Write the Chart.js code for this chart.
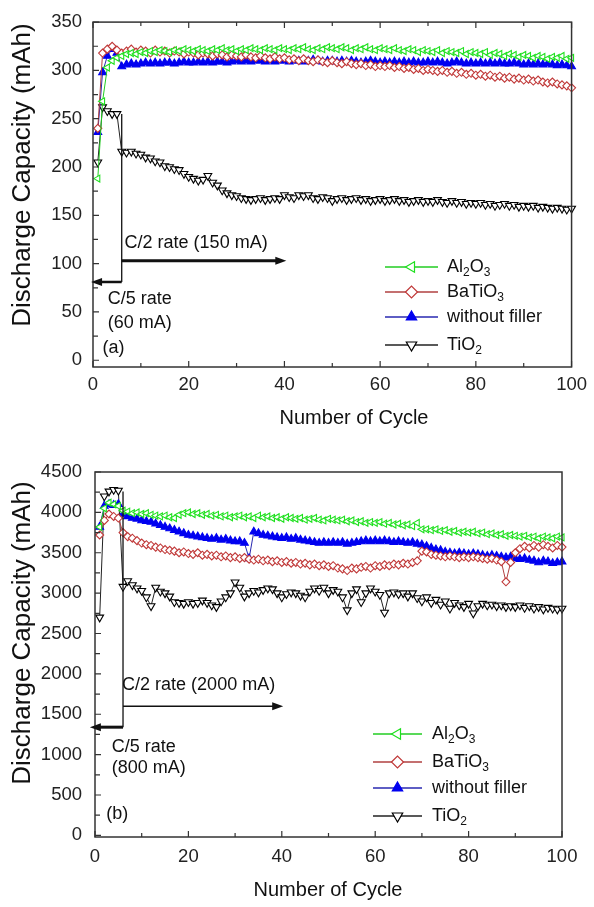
<!DOCTYPE html>
<html>
<head>
<meta charset="utf-8">
<script src="https://cdn.jsdelivr.net/npm/chart.js@4.4.1/dist/chart.umd.min.js"></script>
<style>
  html, body { margin: 0; padding: 0; background: #fff; }
  #wrap { position: relative; width: 594px; height: 907px; }
  #chartA { position: absolute; left: 0; top: 0; }
  #chartB { position: absolute; left: 0; top: 440px; }
</style>
</head>
<body>
<div id="wrap">
  <canvas id="chartA" width="594" height="440"></canvas>
  <canvas id="chartB" width="594" height="467"></canvas>
</div>
<script>
const cycles = Array.from({length: 100}, (_, i) => i + 1);
const seriesNames = ['Al2O3', 'BaTiO3', 'without filler', 'TiO2'];
const cycleTicks = [0, 20, 40, 60, 80, 100];
const capTicksA = [0, 50, 100, 150, 200, 250, 300, 350];
const capTicksB = [0, 500, 1000, 1500, 2000, 2500, 3000, 3500, 4000, 4500];

/*
* (a) small cell, mAh
*/
const al2o3A = [
  188, 268, 303, 310, 313, 315, 317, 318, 317, 319,
  318, 320, 319, 321, 320, 319, 321, 320, 322, 321,
  320, 322, 321, 320, 322, 321, 323, 321, 322, 320,
  322, 321, 323, 322, 321, 323, 322, 321, 323, 322,
  321, 323, 322, 324, 322, 321, 323, 322, 324, 323,
  322, 324, 323, 321, 323, 322, 324, 322, 321, 323,
  322, 321, 323, 321, 320, 322, 321, 319, 321, 320,
  319, 321, 318, 320, 319, 318, 320, 317, 319, 318,
  317, 319, 316, 318, 317, 315, 317, 316, 314, 316,
  315, 313, 315, 314, 312, 314, 313, 315, 312, 313
];
const batio3A = [
  240, 318, 322, 325, 321, 318, 320, 322, 319, 321,
  320, 318, 321, 319, 320, 318, 320, 319, 317, 319,
  318, 316, 318, 317, 315, 317, 316, 314, 316, 315,
  314, 316, 314, 313, 315, 313, 312, 314, 312, 313,
  311, 312, 310, 312, 310, 309, 311, 309, 308, 310,
  308, 307, 309, 307, 306, 307, 305, 306, 304, 305,
  304, 305, 303, 304, 302, 303, 301, 302, 300, 301,
  300, 299, 300, 298, 299, 297, 298, 296, 297, 295,
  296, 294, 295, 293, 294, 292, 293, 291, 292, 290,
  291, 289, 290, 288, 287, 288, 286, 285, 284, 282
];
const noFillerA = [
  236, 298, 315, 322, 318, 304, 306, 307, 306, 307,
  308, 307, 308, 307, 308, 308, 307, 308, 309, 308,
  308, 309, 308, 309, 308, 309, 309, 308, 309, 310,
  309, 310, 309, 310, 310, 309, 310, 309, 310, 310,
  309, 310, 310, 309, 310, 311, 310, 309, 310, 310,
  309, 310, 309, 310, 309, 308, 309, 310, 309, 308,
  309, 308, 309, 308, 309, 308, 309, 308, 308, 309,
  308, 309, 308, 307, 308, 309, 308, 307, 308, 307,
  308, 307, 308, 307, 308, 307, 307, 308, 307, 306,
  307, 306, 307, 306, 307, 306, 305, 306, 305, 304
];
const tio2A = [
  205, 262, 258, 255, 255, 216, 215, 216, 214, 213,
  210, 209, 206, 205, 201, 200, 198, 197, 193, 190,
  188, 186, 187, 191, 184, 181, 176, 173, 171, 170,
  168, 167, 166, 167, 168, 166, 167, 168, 167, 171,
  169, 168, 171, 170, 171, 168, 167, 169, 168, 165,
  167, 168, 166, 167, 168, 166, 167, 165, 166, 167,
  165, 166, 167, 165, 166, 164, 165, 166, 164, 165,
  164, 166, 164, 163, 165, 163, 164, 162, 163, 162,
  163, 161, 162, 160, 161, 162, 160, 161, 159, 160,
  159, 160, 158, 159, 158, 157, 158, 157, 156, 157
];

/*
* (b) large cell, mAh
*/
const al2o3B = [
  3820, 4050, 4120, 4100, 4080, 4020, 4010, 3990, 4000, 3980,
  3990, 3970, 3960, 3950, 3960, 3940, 3930, 3970, 3990, 4000,
  3980, 3990, 3970, 3980, 3960, 3970, 3950, 3960, 3940, 3950,
  3960, 3940, 3950, 3930, 3960, 3940, 3950, 3930, 3940, 3920,
  3940, 3930, 3920, 3930, 3910, 3920, 3930, 3910, 3900, 3920,
  3910, 3900, 3910, 3890, 3900, 3880, 3890, 3870, 3880, 3870,
  3880, 3860, 3870, 3850, 3860, 3840, 3850, 3830, 3870, 3790,
  3790, 3780, 3790, 3770, 3780, 3760, 3770, 3750, 3760, 3750,
  3760, 3740, 3750, 3730, 3740, 3720, 3730, 3710, 3720, 3710,
  3700, 3710, 3690, 3700, 3680, 3700, 3690, 3680, 3700, 3690
];
const batio3B = [
  3720, 3900, 3980, 3950, 3930, 3750, 3700, 3680, 3650, 3620,
  3600, 3590, 3570, 3560, 3540, 3530, 3520, 3500, 3510, 3490,
  3480, 3500, 3470, 3480, 3460, 3470, 3450, 3460, 3440, 3450,
  3430, 3440, 3420, 3410, 3420, 3400, 3410, 3390, 3400, 3380,
  3390, 3370, 3380, 3360, 3370, 3350, 3360, 3340, 3350, 3330,
  3340, 3310, 3300, 3280, 3310, 3300, 3320, 3330, 3310, 3340,
  3330, 3350, 3340, 3360, 3350, 3370, 3360, 3380, 3400, 3520,
  3510, 3480, 3470, 3460, 3450, 3460, 3450, 3440, 3450, 3440,
  3450, 3440, 3430, 3420, 3430, 3410, 3390, 3140, 3380, 3500,
  3550, 3580, 3560, 3590, 3570, 3600, 3580, 3560, 3590, 3570
];
const noFillerB = [
  3820, 4080, 4100, 4090, 4100, 3980, 3950, 3930, 3920, 3900,
  3890, 3880, 3860, 3840, 3820, 3800, 3780, 3760, 3740, 3720,
  3710, 3700, 3690, 3680, 3670, 3680, 3660, 3670, 3650, 3640,
  3640, 3620, 3430, 3760, 3740, 3720, 3710, 3700, 3690, 3680,
  3690, 3670, 3680, 3660, 3650, 3640, 3630, 3620, 3630, 3620,
  3630, 3620, 3630, 3610, 3620, 3630, 3640, 3650, 3640, 3650,
  3640, 3650, 3640, 3630, 3640, 3630, 3620, 3630, 3610, 3600,
  3580, 3560, 3540, 3530, 3510, 3500, 3490, 3500, 3490, 3480,
  3490, 3480, 3470, 3460, 3470, 3460, 3450, 3440, 3450, 3430,
  3420, 3430, 3410, 3400, 3380, 3400, 3390, 3370, 3380, 3390
];
const tio2B = [
  2700, 4200, 4260, 4280, 4270, 3080, 3150, 3100, 3060, 3030,
  2950, 2840, 3070, 3020, 3000, 2960, 2890, 2880, 2870, 2890,
  2870, 2880, 2910, 2880, 2850, 2830, 2900, 2950, 3000, 3135,
  3070, 2960, 3000, 3030, 3010, 3040, 3060, 3050, 3000, 2950,
  2990, 3010, 3000, 2970, 2950, 3020, 3060, 3030, 3070, 3000,
  3040, 3020, 2950, 2790, 3000, 3050, 2890, 3000, 3060, 3020,
  2980, 2760, 3000, 3010, 2990, 3000, 2960, 3000, 2940, 2900,
  2950, 2880, 2920, 2860, 2900, 2810, 2880, 2850, 2830, 2870,
  2750, 2840, 2870, 2850, 2860, 2840, 2850, 2830, 2840, 2830,
  2850, 2820, 2840, 2810, 2830, 2800, 2820, 2810, 2800, 2810
];

const FONT = '"Liberation Sans", Arial, Helvetica, sans-serif';
Chart.defaults.font.family = FONT;
Chart.defaults.color = '#222';

const styles = [
  {line: '#22cc22', edge: '#1ee01e', fill: '#fff', point: 'triangle', rot: -90, r: 4},
  {line: '#b04040', edge: '#c03838', fill: '#fff', point: 'rectRot', rot: 0, r: 4},
  {line: '#2828b0', edge: '#0000f0', fill: '#0000f0', point: 'triangle', rot: 0, r: 4.5},
  {line: '#222', edge: '#000', fill: '#fff', point: 'triangle', rot: 180, r: 4.5}
];

function makeDatasets(values) {
  return values.map((vals, i) => ({
    label: seriesNames[i],
    data: vals,
    borderColor: styles[i].line,
    borderWidth: 1,
    pointStyle: styles[i].point,
    pointRotation: styles[i].rot,
    pointRadius: styles[i].r,
    pointBorderColor: styles[i].edge,
    pointBackgroundColor: styles[i].fill,
    pointBorderWidth: 1.1,
    tension: 0,
    clip: false
  }));
}

// digits of a formula go down as subscripts
function drawFormula(ctx, text, x, y) {
  ctx.textBaseline = 'middle';
  ctx.textAlign = 'left';
  ctx.fillStyle = '#111';
  text.match(/\d+|\D+/g).forEach(run => {
    const sub = /^\d+$/.test(run);
    ctx.font = (sub ? '12px ' : '18px ') + FONT;
    ctx.fillText(run, x, sub ? y + 6 : y);
    x += ctx.measureText(run).width;
  });
}

function arrow(ctx, x0, x1, y, w) {
  const dir = Math.sign(x1 - x0);
  ctx.lineWidth = w;
  ctx.beginPath();
  ctx.moveTo(x0, y);
  ctx.lineTo(x1 - dir * 8, y);
  ctx.stroke();
  ctx.beginPath();
  ctx.moveTo(x1, y);
  ctx.lineTo(x1 - dir * 11, y - 4);
  ctx.lineTo(x1 - dir * 11, y + 4);
  ctx.closePath();
  ctx.fill();
}

/*
* Box around the plot with inward tick marks
*/
const frameTicks = {
  id: 'frameTicks',
  afterDatasetsDraw(chart, args, opts) {
    const {ctx, chartArea: a, scales: {x, y}} = chart;
    const withMinor = vals => {
      const out = [];
      vals.forEach((v, i) => {
        out.push({v: v, major: true});
        if (i < vals.length - 1) out.push({v: (v + vals[i + 1]) / 2, major: false});
      });
      return out;
    };
    ctx.save();
    ctx.strokeStyle = '#333';
    ctx.lineWidth = 1.5;
    ctx.strokeRect(a.left, a.top, a.right - a.left, a.bottom - a.top);
    ctx.lineWidth = 1.2;
    ctx.beginPath();
    withMinor(x.ticks.map(t => t.value)).forEach(t => {
      const p = x.getPixelForValue(t.v);
      const len = t.major ? 6 : 4;
      ctx.moveTo(p, a.bottom);
      ctx.lineTo(p, a.bottom - len);
      if (opts.top) {
        ctx.moveTo(p, a.top);
        ctx.lineTo(p, a.top + len);
      }
    });
    withMinor(y.ticks.map(t => t.value)).forEach(t => {
      const p = y.getPixelForValue(t.v);
      ctx.moveTo(a.left, p);
      ctx.lineTo(a.left + (t.major ? 6 : 5), p);
    });
    ctx.stroke();
    ctx.restore();
  }
};

/*
* Axis titles, placed by hand (the y title sits a bit above the middle)
*/
const axisTitles = {
  id: 'axisTitles',
  afterDraw(chart, args, o) {
    const ctx = chart.ctx;
    ctx.save();
    ctx.fillStyle = '#111';
    ctx.textAlign = 'center';
    ctx.textBaseline = 'middle';
    ctx.font = '20px ' + FONT;
    ctx.fillText('Number of Cycle', o.x[0], o.x[1]);
    ctx.translate(o.y[0], o.y[1]);
    ctx.rotate(-Math.PI / 2);
    ctx.font = '26px ' + FONT;
    ctx.fillText('Discharge Capacity (mAh)', 0, 0);
    ctx.restore();
  }
};

/*
* C/5 and C/2 rate arrows and notes
*/
const rateMarks = {
  id: 'rateMarks',
  afterDatasetsDraw(chart, args, o) {
    const {ctx, scales: {x, y}} = chart;
    const sx = x.getPixelForValue(o.switchAt);
    const slowY = y.getPixelForValue(o.slow.y);
    ctx.save();
    ctx.strokeStyle = '#111';
    ctx.fillStyle = '#111';
    ctx.lineWidth = 1.3;
    ctx.beginPath();
    ctx.moveTo(sx, slowY);
    ctx.lineTo(sx, y.getPixelForValue(o.switchTop));
    ctx.stroke();
    arrow(ctx, sx, x.getPixelForValue(o.slow.to), slowY, o.slow.w);
    arrow(ctx, sx, x.getPixelForValue(o.fast.to), y.getPixelForValue(o.fast.y), o.fast.w);
    ctx.font = '18px ' + FONT;
    ctx.textBaseline = 'middle';
    ctx.textAlign = 'left';
    o.notes.forEach(n => ctx.fillText(n.text, x.getPixelForValue(n.x), y.getPixelForValue(n.y)));
    ctx.restore();
  }
};

/*
* Legend: line sample with the marker in the middle
*/
const sampleLegend = {
  id: 'sampleLegend',
  afterDraw(chart, args, o) {
    const ctx = chart.ctx;
    chart.data.datasets.forEach((ds, i) => {
      const yy = o.rows[i];
      ctx.save();
      ctx.strokeStyle = ds.borderColor;
      ctx.lineWidth = 1.4;
      ctx.beginPath();
      ctx.moveTo(o.x0, yy);
      ctx.lineTo(o.x1, yy);
      ctx.stroke();
      ctx.fillStyle = ds.pointBackgroundColor;
      ctx.strokeStyle = ds.pointBorderColor;
      ctx.lineWidth = 1.2;
      Chart.helpers.drawPoint(ctx, {
        pointStyle: ds.pointStyle,
        rotation: ds.pointRotation,
        radius: 6,
        borderWidth: 1.2
      }, (o.x0 + o.x1) / 2, yy);
      drawFormula(ctx, ds.label, o.textX, yy);
      ctx.restore();
    });
  }
};

function makeChart(id, values, cfg) {
  return new Chart(document.getElementById(id), {
    type: 'line',
    data: {labels: cycles, datasets: makeDatasets(values)},
    plugins: [frameTicks, rateMarks, sampleLegend, axisTitles],
    options: {
      responsive: false,
      animation: false,
      layout: {padding: {top: cfg.padTop, right: cfg.padRight, left: 0, bottom: 0}},
      scales: {
        x: {
          type: 'linear',
          min: 0,
          max: 100,
          afterBuildTicks: s => { s.ticks = cycleTicks.map(v => ({value: v})); },
          afterFit: s => { s.height = cfg.xHeight; },
          grid: {display: false, drawTicks: false},
          border: {display: false},
          ticks: {font: {size: 18.5}, padding: cfg.xTickPad, maxRotation: 0, callback: v => String(v)}
        },
        y: {
          min: cfg.yMin,
          max: cfg.yMax,
          afterBuildTicks: s => { s.ticks = cfg.yTicks.map(v => ({value: v})); },
          afterFit: s => { s.width = cfg.yWidth; },
          grid: {display: false, drawTicks: false},
          border: {display: false},
          ticks: {font: {size: 18.5}, padding: cfg.yTickPad, callback: v => String(v)}
        }
      },
      plugins: {
        legend: {display: false},
        tooltip: {enabled: false},
        frameTicks: {top: cfg.topTicks},
        axisTitles: cfg.titles,
        rateMarks: cfg.marks,
        sampleLegend: cfg.legend
      }
    }
  });
}

makeChart('chartA', [al2o3A, batio3A, noFillerA, tio2A], {
  padTop: 16, padRight: 14, xHeight: 73, yWidth: 93,
  xTickPad: 7, yTickPad: 11,
  yMin: -7, yMax: 350, yTicks: capTicksA, topTicks: true,
  titles: {x: [354, 418], y: [23, 175]},
  marks: {
    switchAt: 6, switchTop: 255,
    slow: {y: 81, to: -0.4, w: 2.5},
    fast: {y: 103, to: 40.4, w: 3},
    notes: [
      {text: 'C/2 rate (150 mA)', x: 6.6, y: 121},
      {text: 'C/5 rate', x: 3.1, y: 63},
      {text: '(60 mA)', x: 3.1, y: 39},
      {text: '(a)', x: 2, y: 13}
    ]
  },
  legend: {x0: 385, x1: 438, textX: 447, rows: [267, 292, 317, 345]}
});

makeChart('chartB', [al2o3B, batio3B, noFillerB, tio2B], {
  padTop: 32, padRight: 32, xHeight: 70, yWidth: 95,
  xTickPad: 9, yTickPad: 13,
  yMin: -20, yMax: 4500, yTicks: capTicksB, topTicks: false,
  titles: {x: [328, 450], y: [23, 193]},
  marks: {
    switchAt: 6, switchTop: 4260,
    slow: {y: 1340, to: -1.1, w: 3},
    fast: {y: 1600, to: 40.3, w: 1.6},
    notes: [
      {text: 'C/2 rate (2000 mA)', x: 5.8, y: 1860},
      {text: 'C/5 rate', x: 3.6, y: 1090},
      {text: '(800 mA)', x: 3.6, y: 830},
      {text: '(b)', x: 2.4, y: 270}
    ]
  },
  legend: {x0: 373, x1: 422, textX: 432, rows: [294, 322, 348, 376]}
});
</script>
</body>
</html>
